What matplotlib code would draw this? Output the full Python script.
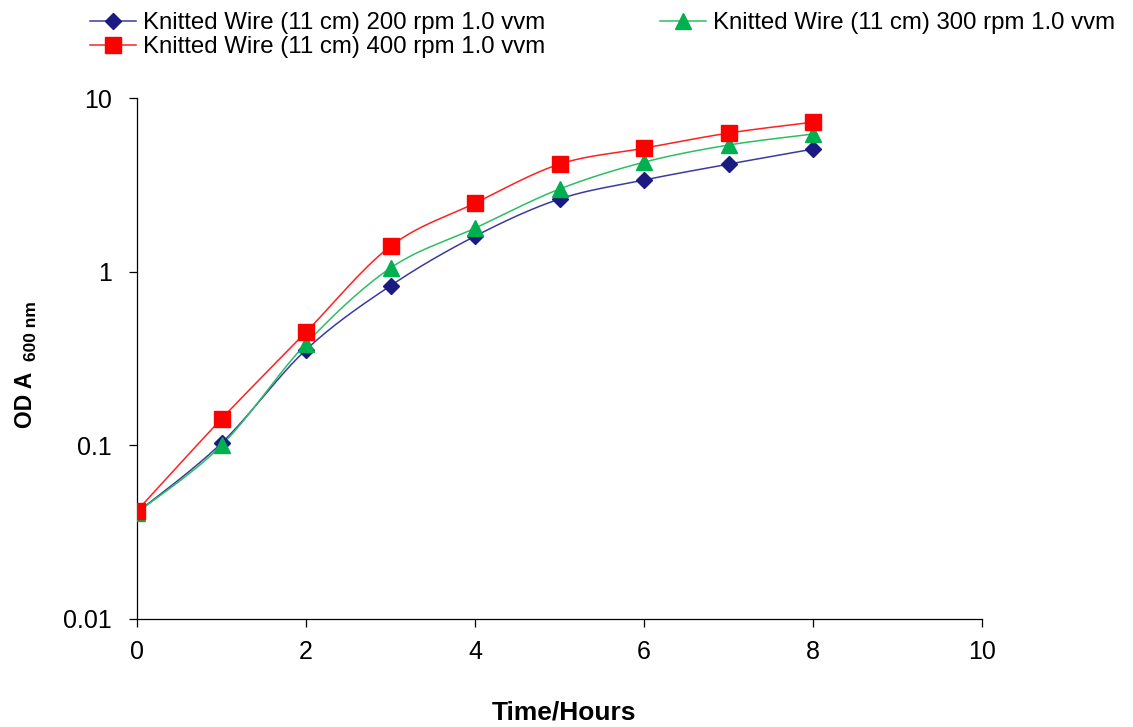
import numpy as np
import matplotlib
matplotlib.use("Agg")
import matplotlib.pyplot as plt
from matplotlib.ticker import FixedFormatter, FixedLocator, NullLocator

plt.rcParams['font.family'] = ['Liberation Sans', 'DejaVu Sans']

# Culture time (hours) and optical density at 600 nm
hours = [0, 1, 2, 3, 4, 5, 6, 7, 8]
od_200rpm = [0.041, 0.103, 0.355, 0.83, 1.6, 2.62, 3.37, 4.16, 5.08]
od_300rpm = [0.041, 0.100, 0.385, 1.05, 1.78, 2.99, 4.27, 5.36, 6.2]
od_400rpm = [0.042, 0.142, 0.449, 1.40, 2.48, 4.16, 5.14, 6.28, 7.26]

labels = ["Knitted Wire (11 cm) 200 rpm 1.0 vvm",
          "Knitted Wire (11 cm) 300 rpm 1.0 vvm",
          "Knitted Wire (11 cm) 400 rpm 1.0 vvm"]

y_ticks = [0.01, 0.1, 1, 10]
y_tick_labels = ["0.01", "0.1", "1", "10"]
x_ticks = [0, 2, 4, 6, 8, 10]

W, H = 1133, 727


def smooth(x, y, n=30):
    """Bezier-smoothed curve through the points, in (x, log10 y) space."""
    x = np.asarray(x, float)
    ly = np.log10(np.asarray(y, float))
    px = np.concatenate([[x[0]], x, [x[-1]]])
    py = np.concatenate([[ly[0]], ly, [ly[-1]]])
    xs, ys = [], []
    for i in range(1, len(px) - 2):
        p0, p1, p2, p3 = (np.array([px[j], py[j]]) for j in (i - 1, i, i + 1, i + 2))
        c1 = p1 + (p2 - p0) / 6.0
        c2 = p2 - (p3 - p1) / 6.0
        t = np.linspace(0, 1, n)[:, None]
        b = ((1 - t) ** 3) * p1 + 3 * ((1 - t) ** 2) * t * c1 + 3 * (1 - t) * t ** 2 * c2 + t ** 3 * p2
        xs.append(b[:, 0]); ys.append(b[:, 1])
    return np.concatenate(xs), 10 ** np.concatenate(ys)


fig = plt.figure(figsize=(W / 100, H / 100), dpi=100)
ax = fig.add_axes([137 / W, 1 - 619 / H, (982 - 137) / W, (619 - 98) / H])

series = [
    (od_200rpm, labels[0], '#3B3B9E', '#1A1A80', 'D', 8),
    (od_300rpm, labels[1], '#2DBE64', '#00B050', '^', 11),
    (od_400rpm, labels[2], '#FF2020', '#FF0000', 's', 11),
]
handles = []
for vals, lab, lc, mc, mk, ms in series:
    sx, sy = smooth(hours, vals)
    ax.plot(sx, sy, color=lc, lw=1.1, zorder=2)
    ax.plot(hours, vals, linestyle='none', marker=mk, ms=ms,
            markerfacecolor=mc, markeredgecolor=mc, zorder=3)
    h, = ax.plot([], [], color=lc, lw=1.1, marker=mk, ms=ms,
                 markerfacecolor=mc, markeredgecolor=mc, label=lab)
    handles.append(h)

ax.set_yscale('log')
ax.set_xlim(0, 10)
ax.set_ylim(0.01, 10)
ax.yaxis.set_major_locator(FixedLocator(y_ticks))
ax.yaxis.set_major_formatter(FixedFormatter(y_tick_labels))
ax.yaxis.set_minor_locator(NullLocator())
ax.set_xticks(x_ticks)
ax.set_xticklabels([str(v) for v in x_ticks])

for s in ('top', 'right'):
    ax.spines[s].set_visible(False)
for s in ('left', 'bottom'):
    ax.spines[s].set_color('black')
    ax.spines[s].set_linewidth(0.9)
ax.tick_params(direction='out', length=6, width=0.9, labelsize=18, colors='black')
ax.tick_params(axis='x', pad=9)
ax.tick_params(axis='y', pad=12)

fig.text(564 / W, 1 - 713 / H, 'Time/Hours', fontsize=19, fontweight='bold',
         ha='center', va='center')
fig.text(25 / W, 1 - 400 / H, 'OD A', rotation=90, fontsize=16.5,
         fontweight='bold', ha='center', va='center')
fig.text(31 / W, 1 - 331 / H, '600 nm', rotation=90, fontsize=12.5,
         fontweight='bold', ha='center', va='center')

order = [handles[0], handles[2], handles[1]]
fig.legend(order, [h.get_label() for h in order], loc='upper left',
           bbox_to_anchor=(90 / W, 1 - 12 / H), ncol=2, frameon=False,
           fontsize=17.3, handlelength=1.9, handletextpad=0.3,
           columnspacing=4.8, labelspacing=0.1, borderaxespad=0, borderpad=0)

fig.savefig('out.png', dpi=100)
